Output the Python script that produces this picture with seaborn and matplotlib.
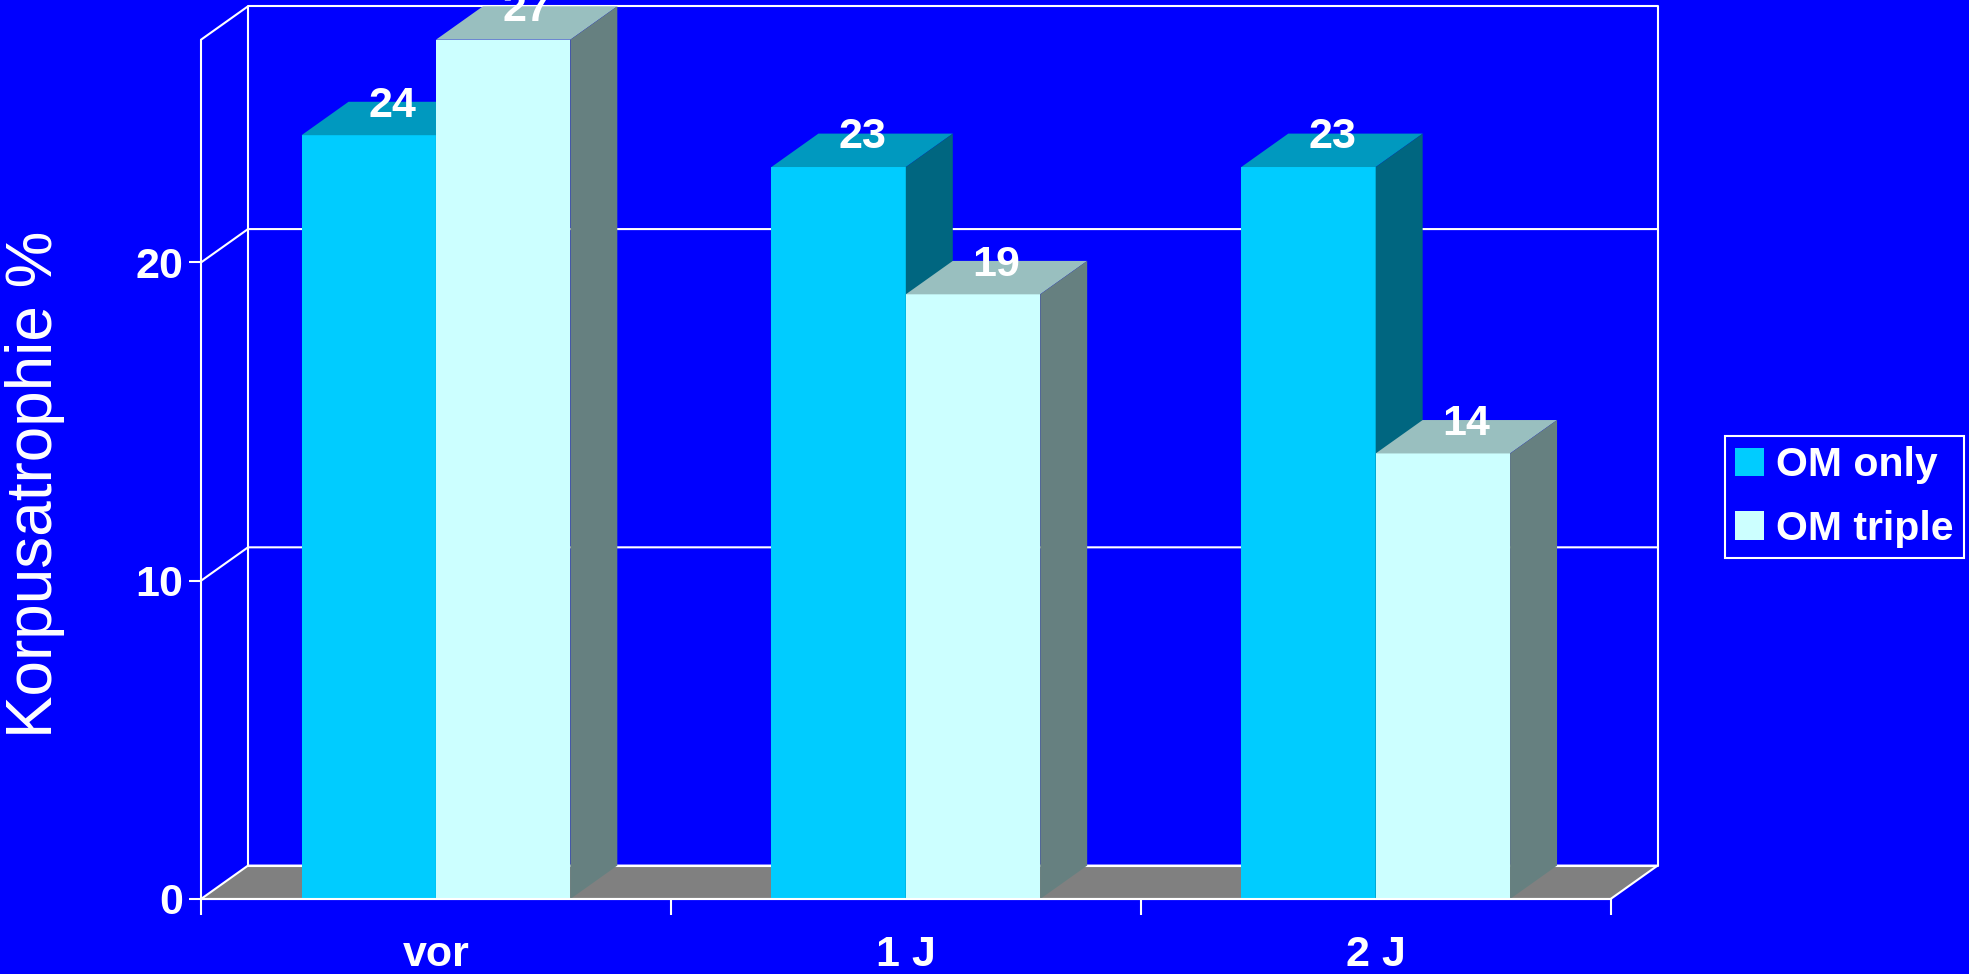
import matplotlib
matplotlib.use("Agg")
import matplotlib.pyplot as plt
import seaborn as sns
import pandas as pd
import numpy as np
from matplotlib.patches import Polygon, Patch

# ---- data ----
categories = ["vor", "1 J", "2 J"]
series_names = ["OM only", "OM triple"]
om_only = [24, 23, 23]
om_triple = [27, 19, 14]
y_ticks = [0, 10, 20]
y_max = 27

# ---- styles ----
front_colors = ["#00CCFF", "#CCFFFF"]
top_colors = ["#0099BF", "#99BFBF"]
side_colors = ["#006680", "#668080"]
bg = "#0000FF"
floor_color = "#808080"
DDX = 0.1    # depth offset in category units
DDY = 1.05   # depth offset in value units
LW = 1.5

plt.rcParams["font.family"] = ["Liberation Sans", "DejaVu Sans"]
plt.rcParams["font.weight"] = "bold"

df = pd.DataFrame({
    "Zeit": categories * 2,
    "Serie": [series_names[0]] * len(categories) + [series_names[1]] * len(categories),
    "Wert": om_only + om_triple,
})

W, H = 1969, 974
fig = plt.figure(figsize=(W / 100, H / 100), dpi=100, facecolor=bg)
ax = fig.add_axes([201 / W, 75 / H, (1657.6 - 201) / W, (967.7 - 75) / H])
ax.set_facecolor(bg)

sns.barplot(data=df, x="Zeit", y="Wert", hue="Serie", order=categories,
            hue_order=series_names, palette=front_colors, saturation=1,
            width=0.572, gap=0, legend=False, errorbar=None, ax=ax)

# 3D faces built from the bar geometry
for i, cont in enumerate(ax.containers):
    for bar in cont:
        bar.set_zorder(3 + 2 * i)
        bar.set_linewidth(0)
        x0, w, h = bar.get_x(), bar.get_width(), bar.get_height()
        top = Polygon([(x0, h), (x0 + w, h), (x0 + w + DDX, h + DDY), (x0 + DDX, h + DDY)],
                      closed=True, facecolor=top_colors[i], edgecolor="none",
                      zorder=4 + 2 * i, clip_on=False)
        side = Polygon([(x0 + w, 0), (x0 + w + DDX, DDY), (x0 + w + DDX, h + DDY), (x0 + w, h)],
                       closed=True, facecolor=side_colors[i], edgecolor="none",
                       zorder=4 + 2 * i, clip_on=False)
        ax.add_patch(top)
        ax.add_patch(side)
        ax.text(x0 + w / 2 + DDX / 2, h + 0.93, f"{h:.0f}", ha="center", va="center",
                fontsize=31, color="white", fontweight="bold", zorder=20)

# frame: floor, walls, gridlines
x_left = -0.5
x_right = len(categories) - 0.5
line_kw = dict(color="white", lw=LW, zorder=2, clip_on=False, solid_capstyle="butt")
floor = Polygon([(x_left, 0), (x_right, 0), (x_right + DDX, DDY), (x_left + DDX, DDY)],
                closed=True, facecolor=floor_color, edgecolor="white", lw=LW,
                zorder=1, clip_on=False)
ax.add_patch(floor)
ax.plot([x_left + DDX, x_right + DDX, x_right + DDX, x_left + DDX, x_left + DDX],
        [DDY, DDY, y_max + DDY, y_max + DDY, DDY], **line_kw)
ax.plot([x_left, x_left, x_left + DDX], [0, y_max, y_max + DDY], **line_kw)
for v in y_ticks[1:]:
    ax.plot([x_left, x_left + DDX, x_right + DDX], [v, v + DDY, v + DDY], **line_kw)
ax.plot([x_left, x_right], [0, 0], color="white", lw=LW, zorder=9, clip_on=False)

ax.set_xlim(x_left, x_right + DDX)
ax.set_ylim(0, y_max + DDY)
for s in ax.spines.values():
    s.set_visible(False)

ax.set_xticks(range(len(categories)), categories)
ax.set_xticks(np.arange(x_left, x_right + 0.01, 1.0), minor=True)
ax.tick_params(axis="x", which="minor", length=11.5, width=LW, color="white", direction="out")
ax.tick_params(axis="x", which="major", length=0, pad=26, labelsize=31, labelcolor="white")
ax.set_yticks(y_ticks)
ax.tick_params(axis="y", length=8.5, width=LW, color="white", pad=4.5, labelsize=31,
               labelcolor="white")
ax.set_xlabel("")
ax.set_ylabel("")

fig.text(35 / W, 1 - 484 / H, "Korpusatrophie %", rotation=90, ha="center", va="center",
         fontsize=46, color="white", fontweight="normal")

handles = [Patch(facecolor=c, edgecolor="none") for c in front_colors]
leg = fig.legend(handles, series_names, loc="upper left",
                 bbox_to_anchor=(1725 / W, 1 - 436 / H), frameon=True, facecolor=bg,
                 edgecolor="white", fontsize=29.5, handlelength=0.7, handleheight=0.7,
                 handletextpad=0.3, borderpad=0.25, labelspacing=0.62, borderaxespad=0,
                 fancybox=False, labelcolor="white")
leg.get_frame().set_linewidth(LW)
leg.get_frame().set_alpha(1)

fig.savefig("out.png", dpi=100, facecolor=bg)
